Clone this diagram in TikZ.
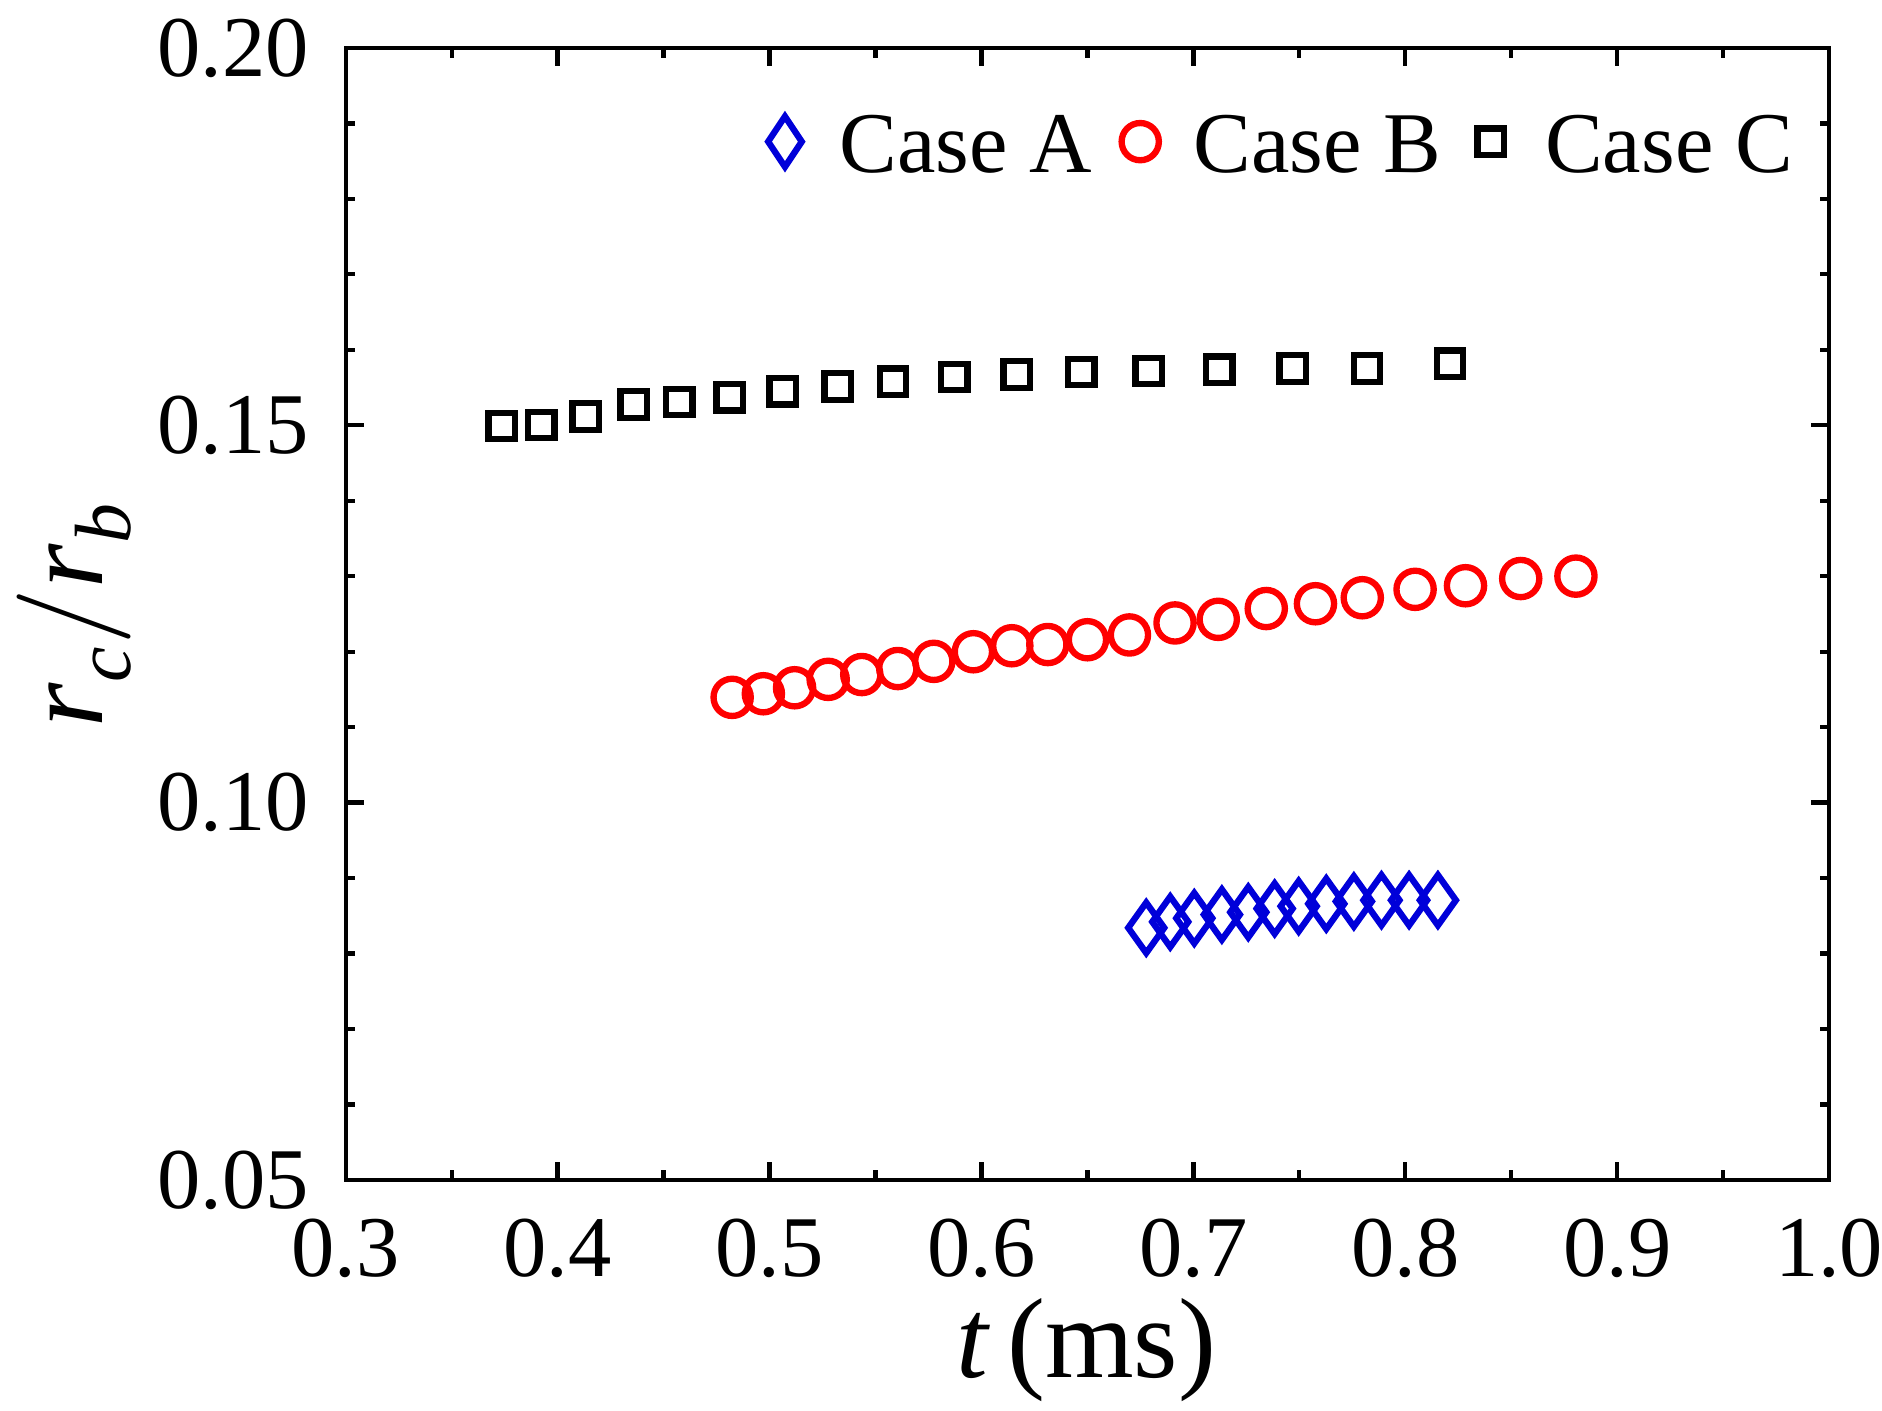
\documentclass[tikz,border=0pt]{standalone}
\usepackage{fontspec}
\setmainfont{Liberation Serif}
\usepackage{unicode-math}
\setmathfont{Latin Modern Math}
\setmathfont[range=it]{Liberation Serif Italic}
\begin{document}
\begin{tikzpicture}[x=0.01cm,y=-0.01cm,
  tick/.style={font=\fontsize{20.5}{22}\selectfont},
  sq/.style={draw=black,line width=1.5pt},
  ci/.style={draw=red,line width=1.5pt},
  di/.style={draw=blue!85!black,line width=1.5pt},
  lab/.style={font=\fontsize{20.5}{22}\selectfont,anchor=west}]
\useasboundingbox (0,0) rectangle (1568,1175);
\draw[line width=1pt] (288,40) rectangle (1524,983);
% x ticks
\foreach \i in {0,...,14}{
  \pgfmathsetmacro\xx{288+\i*88.286}
  \pgfmathsetmacro\L{mod(\i,2)==0?15:8}
  \draw[line width=1pt] (\xx,983) -- (\xx,983-\L);
  \draw[line width=1pt] (\xx,40) -- (\xx,40+\L);}
\foreach \i/\t in {0/0.3,1/0.4,2/0.5,3/0.6,4/0.7,5/0.8,6/0.9,7/1.0}{
  \node[tick,anchor=north] (xt\i) at (288+\i*176.57,1003) {\t};}
% y ticks
\foreach \i in {0,...,15}{
  \pgfmathsetmacro\yy{983-\i*62.867}
  \pgfmathsetmacro\L{mod(\i,5)==0?15:8}
  \draw[line width=1pt] (288,\yy) -- (288+\L,\yy);
  \draw[line width=1pt] (1524,\yy) -- (1524-\L,\yy);}
\foreach \i/\t in {0/0.05,1/0.10,2/0.15,3/0.20}{
  \node[tick,anchor=east] (yt\i) at (270,983-\i*314.33) {\t};}
\node[font=\fontsize{27}{30}\selectfont,rotate=90] (ylab) at (62,512) {$r_c/r_b$};
\node[font=\fontsize{27}{30}\selectfont] (xlab) at (905,1125) {$t$\,(ms)};
% squares
\foreach \x/\y in {418/355,451/354,488/347,528/337,566/335,608/331,652/326,698/322,744/318,795/314,847/312,901/310,957/309,1016/308,1077/307,1139/307,1208/303}
  \draw[sq] (\x-11,\y-11) rectangle (\x+11,\y+11);
% circles
\foreach \x/\y in {610/581,636/578,662/573,690/566,718/562,748/557,778/551,811/543,843/538,873/537,906/533,941/529,979/519,1015/516,1055/507,1096/503,1135/498,1179/491,1221/488,1267/482,1313/480}
  \draw[ci] (\x,\y) circle[radius=0.155cm];
% diamonds
\foreach \x/\y in {955/773,975/768,995/765,1018/762,1040/760,1062/757,1082/755,1105/753,1128/751,1151/750,1174/750,1198/750}
  \draw[di] (\x-15,\y) -- (\x,\y-21) -- (\x+15,\y) -- (\x,\y+21) -- cycle;
% legend
\draw[di] (640,118) -- (654,97) -- (668,118) -- (654,139) -- cycle;
\node[lab] (la) at (687,120) {Case A};
\draw[ci] (950,118) circle[radius=0.155cm];
\node[lab] (lb) at (982,120) {Case B};
\draw[sq] (1231,107) rectangle (1253,129);
\node[lab] (lc) at (1275,120) {Case C};
\end{tikzpicture}
\end{document}
